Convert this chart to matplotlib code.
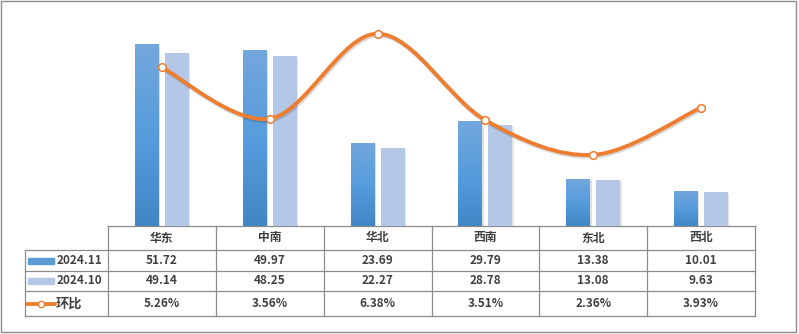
#Regional comparison: 2024.11 vs 2024.10 with month-on-month change line
#and a data table under the bars.

import numpy as np
import matplotlib.pyplot as plt
from matplotlib.path import Path
from matplotlib.patches import PathPatch, Rectangle
from matplotlib.colors import LinearSegmentedColormap

plt.rcParams['font.family'] = ['Noto Sans CJK SC', 'DejaVu Sans']

#Data
regions = ['华东', '中南', '华北', '西南', '东北', '西北']
nov_2024 = [51.72, 49.97, 23.69, 29.79, 13.38, 10.01]
oct_2024 = [49.14, 48.25, 22.27, 28.78, 13.08, 9.63]
mom_pct = [5.26, 3.56, 6.38, 3.51, 2.36, 3.93]
series_names = ['2024.11', '2024.10', '环比']

#Colours
blue = '#5B9BD5'
light_blue = '#B4C7E7'
orange = '#ED7D31'
grid_col = '#8C8C8C'
text_col = '#404040'

W, H = 799, 334
fig = plt.figure(figsize=(W / 100, H / 100), dpi=100)

#Pixel layout of plot area / table
x_left, x_right = 108, 755
y_top, y_base = 15, 226
row_y = [226, 250, 271, 291, 316]
key_x0 = 25

ax = fig.add_axes([x_left / W, 1 - y_base / H, (x_right - x_left) / W, (y_base - y_top) / H])
ax.set_xlim(-0.5, len(regions) - 0.5)
ax.set_ylim(0, 60)
ax.axis('off')

x = np.arange(len(regions))
bw, off = 0.222, 0.139

grad_cmap = LinearSegmentedColormap.from_list('g', ['#4286C6', '#579CDC', '#73A7DC'])
grad = np.linspace(0, 1, 100).reshape(-1, 1)
for xi, v in zip(x, nov_2024):
    ax.bar(xi - off + 0.012, v, bw, bottom=-0.4, color='#000000', alpha=0.12, zorder=1)
    bars = ax.bar(xi - off, v, bw, color=blue, zorder=2)
    im = ax.imshow(grad, extent=[xi - off - bw / 2, xi - off + bw / 2, 0, v],
                   origin='lower', aspect='auto', cmap=grad_cmap, zorder=2)
    im.set_clip_path(bars[0])
for xi, v in zip(x, oct_2024):
    ax.bar(xi + off + 0.012, v, bw, bottom=-0.4, color='#000000', alpha=0.10, zorder=1)
    ax.bar(xi + off, v, bw, color=light_blue, zorder=2)
ax.set_xlim(-0.5, len(regions) - 0.5)
ax.set_ylim(0, 60)

#Smoothed line (Catmull-Rom as cubic Bezier) on secondary axis
ax2 = ax.twinx()
ax2.set_ylim(0, 7)
ax2.axis('off')
pts = np.column_stack([x, mom_pct]).astype(float)
ext = np.vstack([pts[0], pts, pts[-1]])
verts = [tuple(pts[0])]
codes = [Path.MOVETO]
for i in range(len(pts) - 1):
    p0, p1, p2, p3 = ext[i], ext[i + 1], ext[i + 2], ext[i + 3]
    c1 = p1 + (p2 - p0) / 6
    c2 = p2 - (p3 - p1) / 6
    verts += [tuple(c1), tuple(c2), tuple(p2)]
    codes += [Path.CURVE4] * 3
ax2.add_patch(PathPatch(Path(verts, codes), facecolor='none', edgecolor='#000000',
                        alpha=0.15, lw=3.2, transform=ax2.transData
                        + plt.matplotlib.transforms.ScaledTranslation(1 / 100, -1.5 / 100, fig.dpi_scale_trans),
                        zorder=3))
ax2.add_patch(PathPatch(Path(verts, codes), facecolor='none', edgecolor=orange,
                        lw=2.8, capstyle='round', joinstyle='round', zorder=4))
ax2.plot(x, mom_pct, 'o', ms=5.5, mfc='white', mec=orange, mew=1.1, zorder=5)

#Overlay in pixel coords for table and frame
ov = fig.add_axes([0, 0, 1, 1], zorder=-1)
ov.set_xlim(0, W)
ov.set_ylim(H, 0)
ov.axis('off')
ov.add_patch(Rectangle((1, 1), W - 4, H - 3, fill=False, edgecolor='#8C8C8C', lw=1))

col_w = (x_right - x_left) / len(regions)
lw = 0.9
ov.plot([x_left, x_right], [row_y[0]] * 2, color=grid_col, lw=lw)
for yy in row_y[1:]:
    ov.plot([key_x0, x_right], [yy, yy], color=grid_col, lw=lw)
ov.plot([key_x0, key_x0], [row_y[1], row_y[-1]], color=grid_col, lw=lw)
for i in range(len(regions) + 1):
    xx = x_left + i * col_w
    ov.plot([xx, xx], [row_y[0], row_y[-1]], color=grid_col, lw=lw)

fs = 8.5
rows = [[f'{v:.2f}' for v in nov_2024],
        [f'{v:.2f}' for v in oct_2024],
        [f'{v:.2f}%' for v in mom_pct]]
for i, name in enumerate(regions):
    cx = x_left + (i + 0.5) * col_w
    ov.text(cx, (row_y[0] + row_y[1]) / 2, name, ha='center', va='center',
            fontsize=fs, fontweight='bold', color=text_col)
    for r, vals in enumerate(rows):
        ov.text(cx, (row_y[r + 1] + row_y[r + 2]) / 2, vals[i], ha='center', va='center',
                fontsize=fs, fontweight='bold', color=text_col)

#Legend keys in the table
for r, col in enumerate([blue, light_blue]):
    cy = (row_y[r + 1] + row_y[r + 2]) / 2
    ov.add_patch(Rectangle((28, cy - 3), 26, 6, color=col))
    ov.text(57, cy, series_names[r], ha='left', va='center', fontsize=fs,
            fontweight='bold', color=text_col)
cy = (row_y[3] + row_y[4]) / 2
ov.plot([27, 55], [cy, cy], color=orange, lw=2.8, solid_capstyle='round')
ov.plot([41], [cy], 'o', ms=4.5, mfc='white', mec=orange, mew=1.0)
ov.text(56, cy, series_names[2], ha='left', va='center', fontsize=fs + 1,
        fontweight='bold', color=text_col)

fig.savefig('out.png', dpi=100)
